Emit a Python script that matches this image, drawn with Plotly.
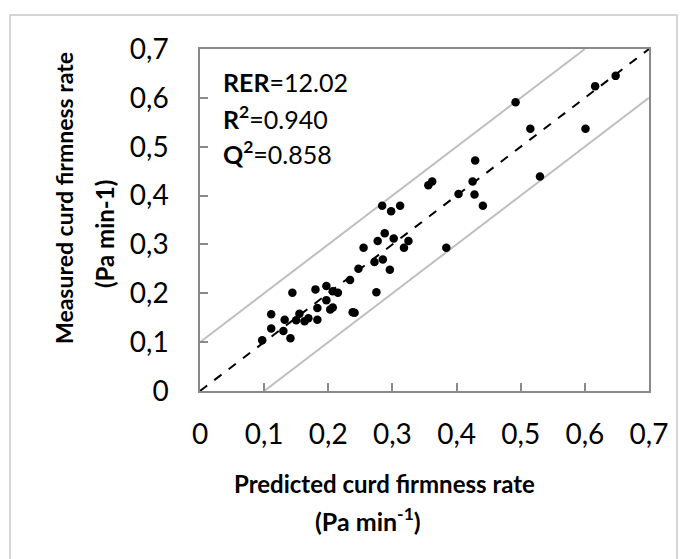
import plotly.graph_objects as go

# Data (predicted vs measured curd firmness rate)
predicted = [0.097, 0.111, 0.111, 0.130, 0.132, 0.141, 0.144, 0.150, 0.155, 0.163,
             0.169, 0.180, 0.183, 0.183, 0.197, 0.197, 0.203, 0.207, 0.207, 0.215,
             0.234, 0.238, 0.241, 0.247, 0.255, 0.272, 0.275, 0.277, 0.285, 0.288,
             0.296, 0.302, 0.318, 0.325, 0.284, 0.298, 0.312, 0.356, 0.362, 0.384,
             0.403, 0.425, 0.428, 0.429, 0.441, 0.492, 0.515, 0.530, 0.601, 0.616,
             0.648]
measured = [0.104, 0.157, 0.128, 0.123, 0.146, 0.108, 0.201, 0.145, 0.158, 0.143,
            0.149, 0.208, 0.170, 0.146, 0.186, 0.215, 0.167, 0.171, 0.204, 0.201,
            0.227, 0.161, 0.160, 0.250, 0.293, 0.264, 0.202, 0.307, 0.269, 0.323,
            0.248, 0.312, 0.293, 0.307, 0.379, 0.368, 0.379, 0.421, 0.429, 0.293,
            0.403, 0.429, 0.402, 0.472, 0.379, 0.591, 0.537, 0.439, 0.537, 0.624,
            0.645]

ideal_x = [0.0, 0.7]
ideal_y = [0.0, 0.7]
upper_x = [0.0, 0.6]
upper_y = [0.1, 0.7]
lower_x = [0.1, 0.7]
lower_y = [0.0, 0.6]

tick_vals = [0, 0.1, 0.2, 0.3, 0.4, 0.5, 0.6, 0.7]

FONT = "Lato"
GRAY_AXIS = "#8a8a8a"
GRAY_LINE = "#bfbfbf"

fig = go.Figure()
fig.add_trace(go.Scatter(x=upper_x, y=upper_y, mode="lines",
                         line=dict(color=GRAY_LINE, width=2), hoverinfo="skip"))
fig.add_trace(go.Scatter(x=lower_x, y=lower_y, mode="lines",
                         line=dict(color=GRAY_LINE, width=2), hoverinfo="skip"))
fig.add_trace(go.Scatter(x=ideal_x, y=ideal_y, mode="lines",
                         line=dict(color="black", width=2, dash="dash"), hoverinfo="skip"))
fig.add_trace(go.Scatter(x=predicted, y=measured, mode="markers",
                         marker=dict(color="black", size=8.5)))

L, R, T, B = 200, 37, 49, 168
W, H = 686, 559
pw = W - L - R
ph = H - T - B

def px(x):
    return (x - L) / pw

def py(y):
    return (H - B - y) / ph

axis_common = dict(range=[0, 0.7], tickvals=tick_vals, showgrid=False, zeroline=False,
                   showline=True, linecolor=GRAY_AXIS, linewidth=1.5, mirror=True,
                   ticks="inside", ticklen=8, tickcolor=GRAY_AXIS, tickwidth=1.5,
                   tickfont=dict(family=FONT, size=28, color="black"))

fig.update_layout(
    width=W, height=H,
    margin=dict(l=L, r=R, t=T, b=B),
    paper_bgcolor="white", plot_bgcolor="white",
    showlegend=False,
    separators=", ",
    xaxis=dict(**axis_common, ticklabelstandoff=18),
    yaxis=dict(**axis_common, ticklabelstandoff=24),
    font=dict(family=FONT, color="black"),
)

ann = []
# stats text
stats = ["<b>RER</b>=12.02", "<b>R<sup>2</sup></b>=0.940", "<b>Q<sup>2</sup></b>=0.858"]
for i, s in enumerate(stats):
    ann.append(dict(text=s, xref="paper", yref="paper", x=px(221), y=py(82 + 35 * i),
                    xanchor="left", yanchor="middle", showarrow=False,
                    font=dict(family=FONT, size=25, color="black")))
# x title
ann.append(dict(text="<b>Predicted curd firmness rate</b>", xref="paper", yref="paper",
                x=px(384), y=py(483), xanchor="center", yanchor="middle", showarrow=False,
                font=dict(family=FONT, size=24, color="black")))
ann.append(dict(text="<b>(Pa min<sup>-1</sup>)</b>", xref="paper", yref="paper",
                x=px(368), y=py(519), xanchor="center", yanchor="middle", showarrow=False,
                font=dict(family=FONT, size=25, color="black")))
# y title
ann.append(dict(text="<b>Measured curd firmness rate</b>", xref="paper", yref="paper",
                x=px(64), y=py(198), xanchor="center", yanchor="middle", showarrow=False,
                textangle=-90, font=dict(family=FONT, size=23, color="black")))
ann.append(dict(text="<b>(Pa min-1)</b>", xref="paper", yref="paper",
                x=px(104), y=py(234), xanchor="center", yanchor="middle", showarrow=False,
                textangle=-90, font=dict(family=FONT, size=24, color="black")))
fig.update_layout(annotations=ann)

# chart area border
fig.add_shape(type="rect", xref="paper", yref="paper",
              x0=px(10), x1=px(677), y0=py(575), y1=py(15),
              line=dict(color="#c8c8c8", width=1.5), fillcolor="rgba(0,0,0,0)", layer="below")

fig.write_html("out.html")
